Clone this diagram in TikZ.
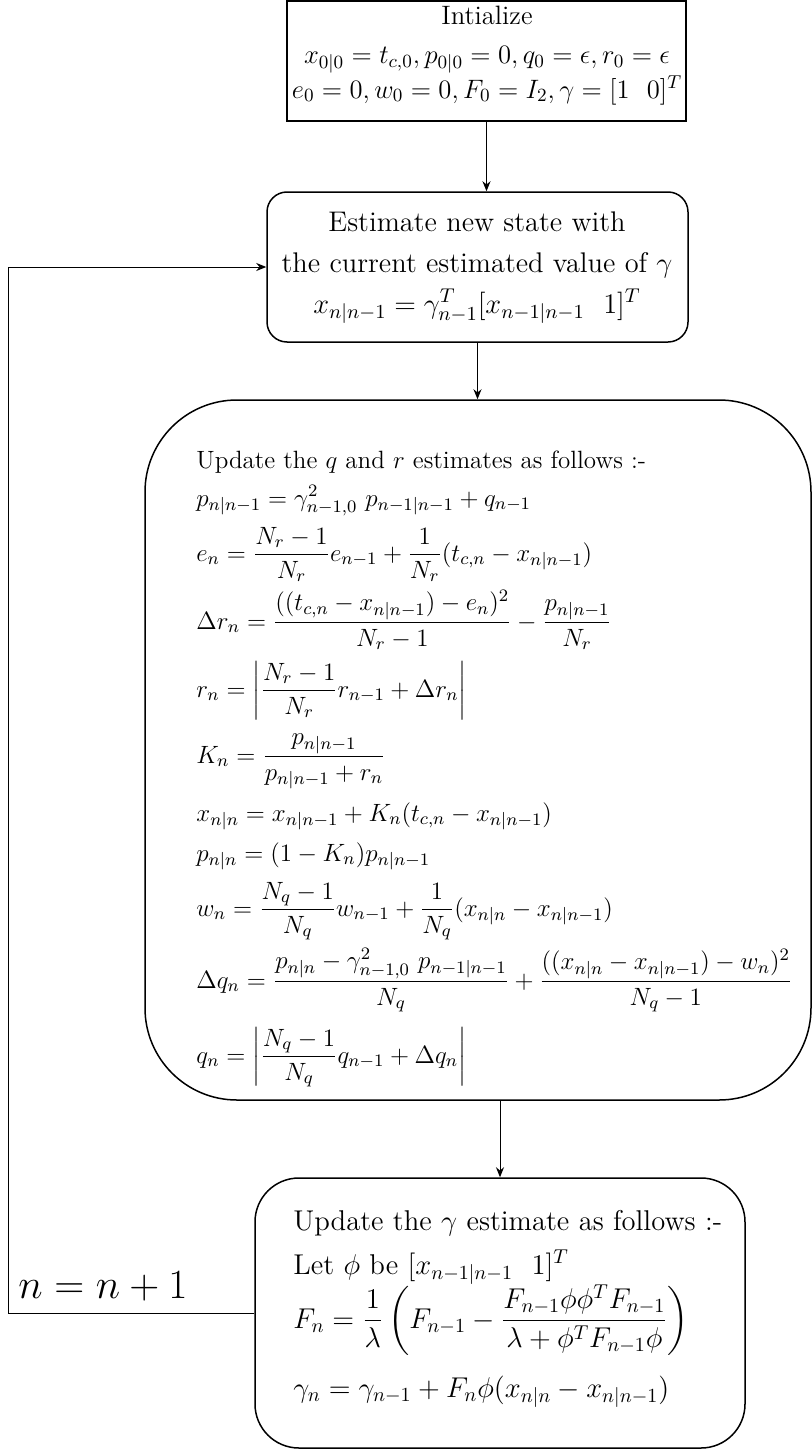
\RequirePackage{fix-cm}
\documentclass[tikz,border=0pt]{standalone}
\usepackage{amsmath}
\usetikzlibrary{fit,arrows.meta}
\begin{document}
\begin{tikzpicture}[x=0.5pt,y=-0.5pt,
  box/.style={draw, line width=0.75pt, inner sep=0pt},
  arr/.style={-{Stealth[length=5pt,width=4pt]}, line width=0.5pt},
  fa/.style={font=\fontsize{13.3}{16}\selectfont, inner sep=0pt},
  fb/.style={font=\fontsize{14.2}{17}\selectfont, inner sep=0pt},
  fc/.style={font=\fontsize{12.5}{15}\selectfont, inner sep=0pt},
  fd/.style={font=\fontsize{14.3}{17}\selectfont, inner sep=0pt},
  fn/.style={font=\fontsize{20.8}{24}\selectfont, inner sep=0pt}]
\useasboundingbox (0,0) rectangle (812,1450);
% box corners
\coordinate (a1) at (287,1);   \coordinate (a2) at (686,121);
\coordinate (b1) at (267,192); \coordinate (b2) at (688,342);
\coordinate (c1) at (145,400); \coordinate (c2) at (811,1100);
\coordinate (d1) at (255,1178);\coordinate (d2) at (745,1448);
\node[box, fit=(a1)(a2)] (init) {};
\node[box, rounded corners=10pt, fit=(b1)(b2)] (est) {};
\node[box, rounded corners=46pt, fit=(c1)(c2)] (upd) {};
\node[box, rounded corners=22pt, fit=(d1)(d2)] (gam) {};
% box 1 text
\node[fa, anchor=base] (t11) at (487,25) {Intialize};
\node[fa, anchor=base] (t12) at (487,64) {$x_{0|0}=t_{c,0}, p_{0|0}=0, q_0=\epsilon, r_0=\epsilon$};
\node[fa, anchor=base] (t13) at (487,98) {$e_0=0, w_0=0, F_0=I_2, \gamma=[1\ \ 0]^T$};
% box 2 text
\node[fb, anchor=base] (t21) at (477,231) {Estimate new state with};
\node[fb, anchor=base] (t22) at (477,272) {the current estimated value of $\gamma$};
\node[fb, anchor=base] (t23) at (477,313) {$x_{n|n-1}=\gamma^T_{n-1}[x_{n-1|n-1}\ \ 1]^T$};
% box 3 text
\node[fc, anchor=base west] (t30) at (196,468) {Update the $q$ and $r$ estimates as follows :-};
\node[fc, anchor=base west] (t31) at (196,506) {$p_{n|n-1}=\gamma^2_{n-1,0}\ p_{n-1|n-1}+q_{n-1}$};
\node[fc, anchor=base west] (t32) at (196,561) {$e_n=\dfrac{N_r-1}{N_r}e_{n-1}+\dfrac{1}{N_r}(t_{c,n}-x_{n|n-1})$};
\node[fc, anchor=base west] (t33) at (196,629) {$\Delta r_n=\dfrac{((t_{c,n}-x_{n|n-1})-e_n)^2}{N_r-1}-\dfrac{p_{n|n-1}}{N_r}$};
\node[fc, anchor=base west] (t34) at (196,697) {$r_n=\left|\dfrac{N_r-1}{N_r}r_{n-1}+\Delta r_n\right|$};
\node[fc, anchor=base west] (t35) at (196,763) {$K_n=\dfrac{p_{n|n-1}}{p_{n|n-1}+r_n}$};
\node[fc, anchor=base west] (t36) at (196,821) {$x_{n|n}=x_{n|n-1}+K_n(t_{c,n}-x_{n|n-1})$};
\node[fc, anchor=base west] (t37) at (196,861) {$p_{n|n}=(1-K_n)p_{n|n-1}$};
\node[fc, anchor=base west] (t38) at (196,916) {$w_n=\dfrac{N_q-1}{N_q}w_{n-1}+\dfrac{1}{N_q}(x_{n|n}-x_{n|n-1})$};
\node[fc, anchor=base west] (t39) at (196,988) {$\Delta q_n=\dfrac{p_{n|n}-\gamma^2_{n-1,0}\ p_{n-1|n-1}}{N_q}+\dfrac{((x_{n|n}-x_{n|n-1})-w_n)^2}{N_q-1}$};
\node[fc, anchor=base west] (t3a) at (196,1063) {$q_n=\left|\dfrac{N_q-1}{N_q}q_{n-1}+\Delta q_n\right|$};
% box 4 text
\node[fd, anchor=base west] (t41) at (293,1230) {Update the $\gamma$ estimate as follows :-};
\node[fd, anchor=base west] (t42) at (293,1274) {Let $\phi$ be $[x_{n-1|n-1}\ \ 1]^T$};
\node[fd, anchor=base west] (t43) at (293,1328) {$F_n=\dfrac{1}{\lambda}\left(F_{n-1}-\dfrac{F_{n-1}\phi\phi^TF_{n-1}}{\lambda+\phi^TF_{n-1}\phi}\right)$};
\node[fd, anchor=base west] (t44) at (293,1397) {$\gamma_n=\gamma_{n-1}+F_n\phi(x_{n|n}-x_{n|n-1})$};
% loop label
\node[fn, anchor=base west] (lbl) at (18,1298) {$n=n+1$};
% connectors
\draw[arr] (init.south) -- (init.south |- est.north);
\draw[arr] (est.south) -- (est.south |- upd.north);
\draw[arr] (gam.north |- upd.south) -- (gam.north);
\coordinate (lc) at (8,1313);
\draw[arr] (gam.west) -- (lc) |- (est.west);
\end{tikzpicture}
\end{document}
